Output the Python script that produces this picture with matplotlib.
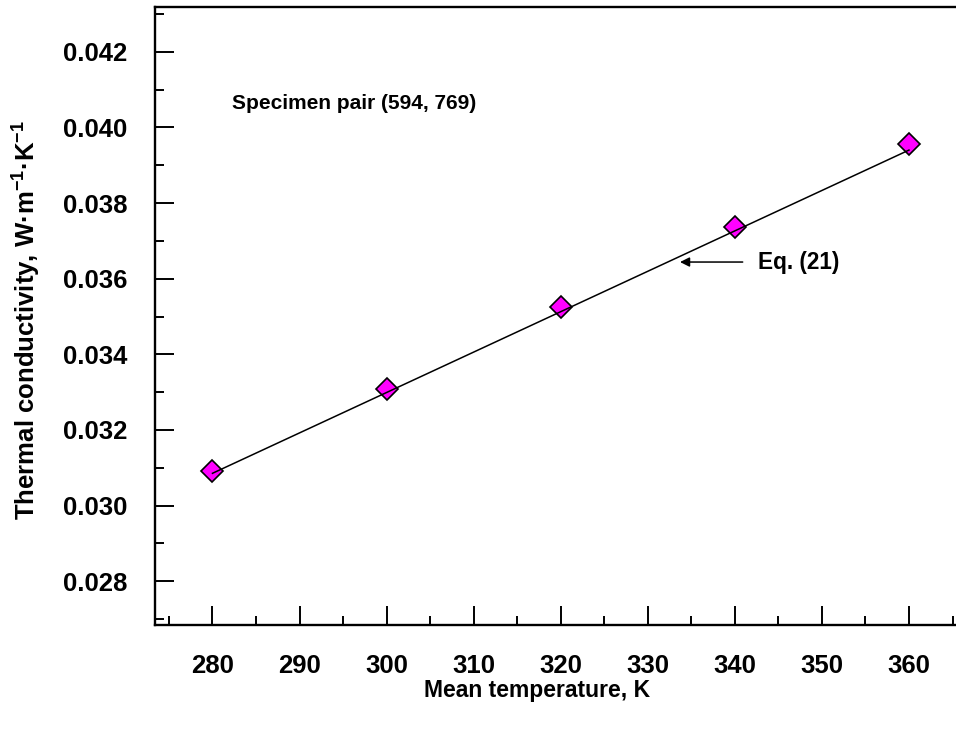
import matplotlib
matplotlib.use("Agg")
import matplotlib.pyplot as plt
from matplotlib.ticker import MultipleLocator, FormatStrFormatter

plt.rcParams['font.family'] = ['Liberation Sans', 'DejaVu Sans']
plt.rcParams['font.weight'] = 'bold'
plt.rcParams['mathtext.default'] = 'regular'

# Measured thermal conductivity versus mean temperature
mean_temp_K = [280, 300, 320, 340, 360]
conductivity = [0.03092, 0.03308, 0.03524, 0.03737, 0.03956]

# Eq. (21) correlation, evaluated at the ends of the range
eq21_temp_K = [280, 360]
eq21_conductivity = [0.030855, 0.03940]

x_ticks = [280, 290, 300, 310, 320, 330, 340, 350, 360]
y_ticks = [0.028, 0.030, 0.032, 0.034, 0.036, 0.038, 0.040, 0.042]

fig = plt.figure(figsize=(9.56, 7.31), dpi=100)
ax = fig.add_axes([155 / 956, (731 - 625) / 731, 1 - 155 / 956, (625 - 7.3) / 731])

ax.plot(eq21_temp_K, eq21_conductivity, color='black', lw=1.1, zorder=4)
ax.plot(mean_temp_K, conductivity, linestyle='none', marker='D', markersize=11.5,
        markerfacecolor='#ff00ff', markeredgecolor='black', markeredgewidth=1.2, zorder=3)

ax.set_xlim(273.4, 365.4)
ax.set_ylim(0.026845, 0.043174)
ax.set_xticks(x_ticks)
ax.set_yticks(y_ticks)
ax.xaxis.set_minor_locator(MultipleLocator(5))
ax.yaxis.set_minor_locator(MultipleLocator(0.001))
ax.yaxis.set_major_formatter(FormatStrFormatter('%.3f'))

for side in ('left', 'bottom', 'top'):
    ax.spines[side].set_linewidth(1.7)
ax.spines['right'].set_visible(False)

ax.tick_params(which='major', direction='in', length=13.5, width=1.4, labelsize=18.5)
ax.tick_params(which='minor', direction='in', length=6.5, width=1.4)
ax.tick_params(axis='y', which='both', right=False, pad=20)
ax.tick_params(axis='x', which='both', top=False, pad=21)
for lab in ax.get_xticklabels() + ax.get_yticklabels():
    lab.set_fontweight('bold')

ax.text(282.3, 0.040643, 'Specimen pair (594, 769)', fontsize=15.0, fontweight='bold',
        ha='left', va='center')
ax.annotate('', xy=(333.7, 0.03644), xytext=(340.9, 0.03644),
            arrowprops=dict(arrowstyle='-|>', color='black', lw=1.1,
                            mutation_scale=14, shrinkA=0, shrinkB=0))
ax.text(342.65, 0.03644, 'Eq. (21)', fontsize=16.3, fontweight='bold',
        ha='left', va='center')

fig.text(537 / 956, 1 - 690 / 731, 'Mean temperature, K', fontsize=16.5,
         fontweight='bold', ha='center', va='center')
fig.text(27 / 956, 1 - 320 / 731, 'Thermal conductivity, W·m$^{-1}$·K$^{-1}$',
         fontsize=18.5, fontweight='bold', ha='center', va='center', rotation=90)

fig.savefig('out.png', dpi=100)
